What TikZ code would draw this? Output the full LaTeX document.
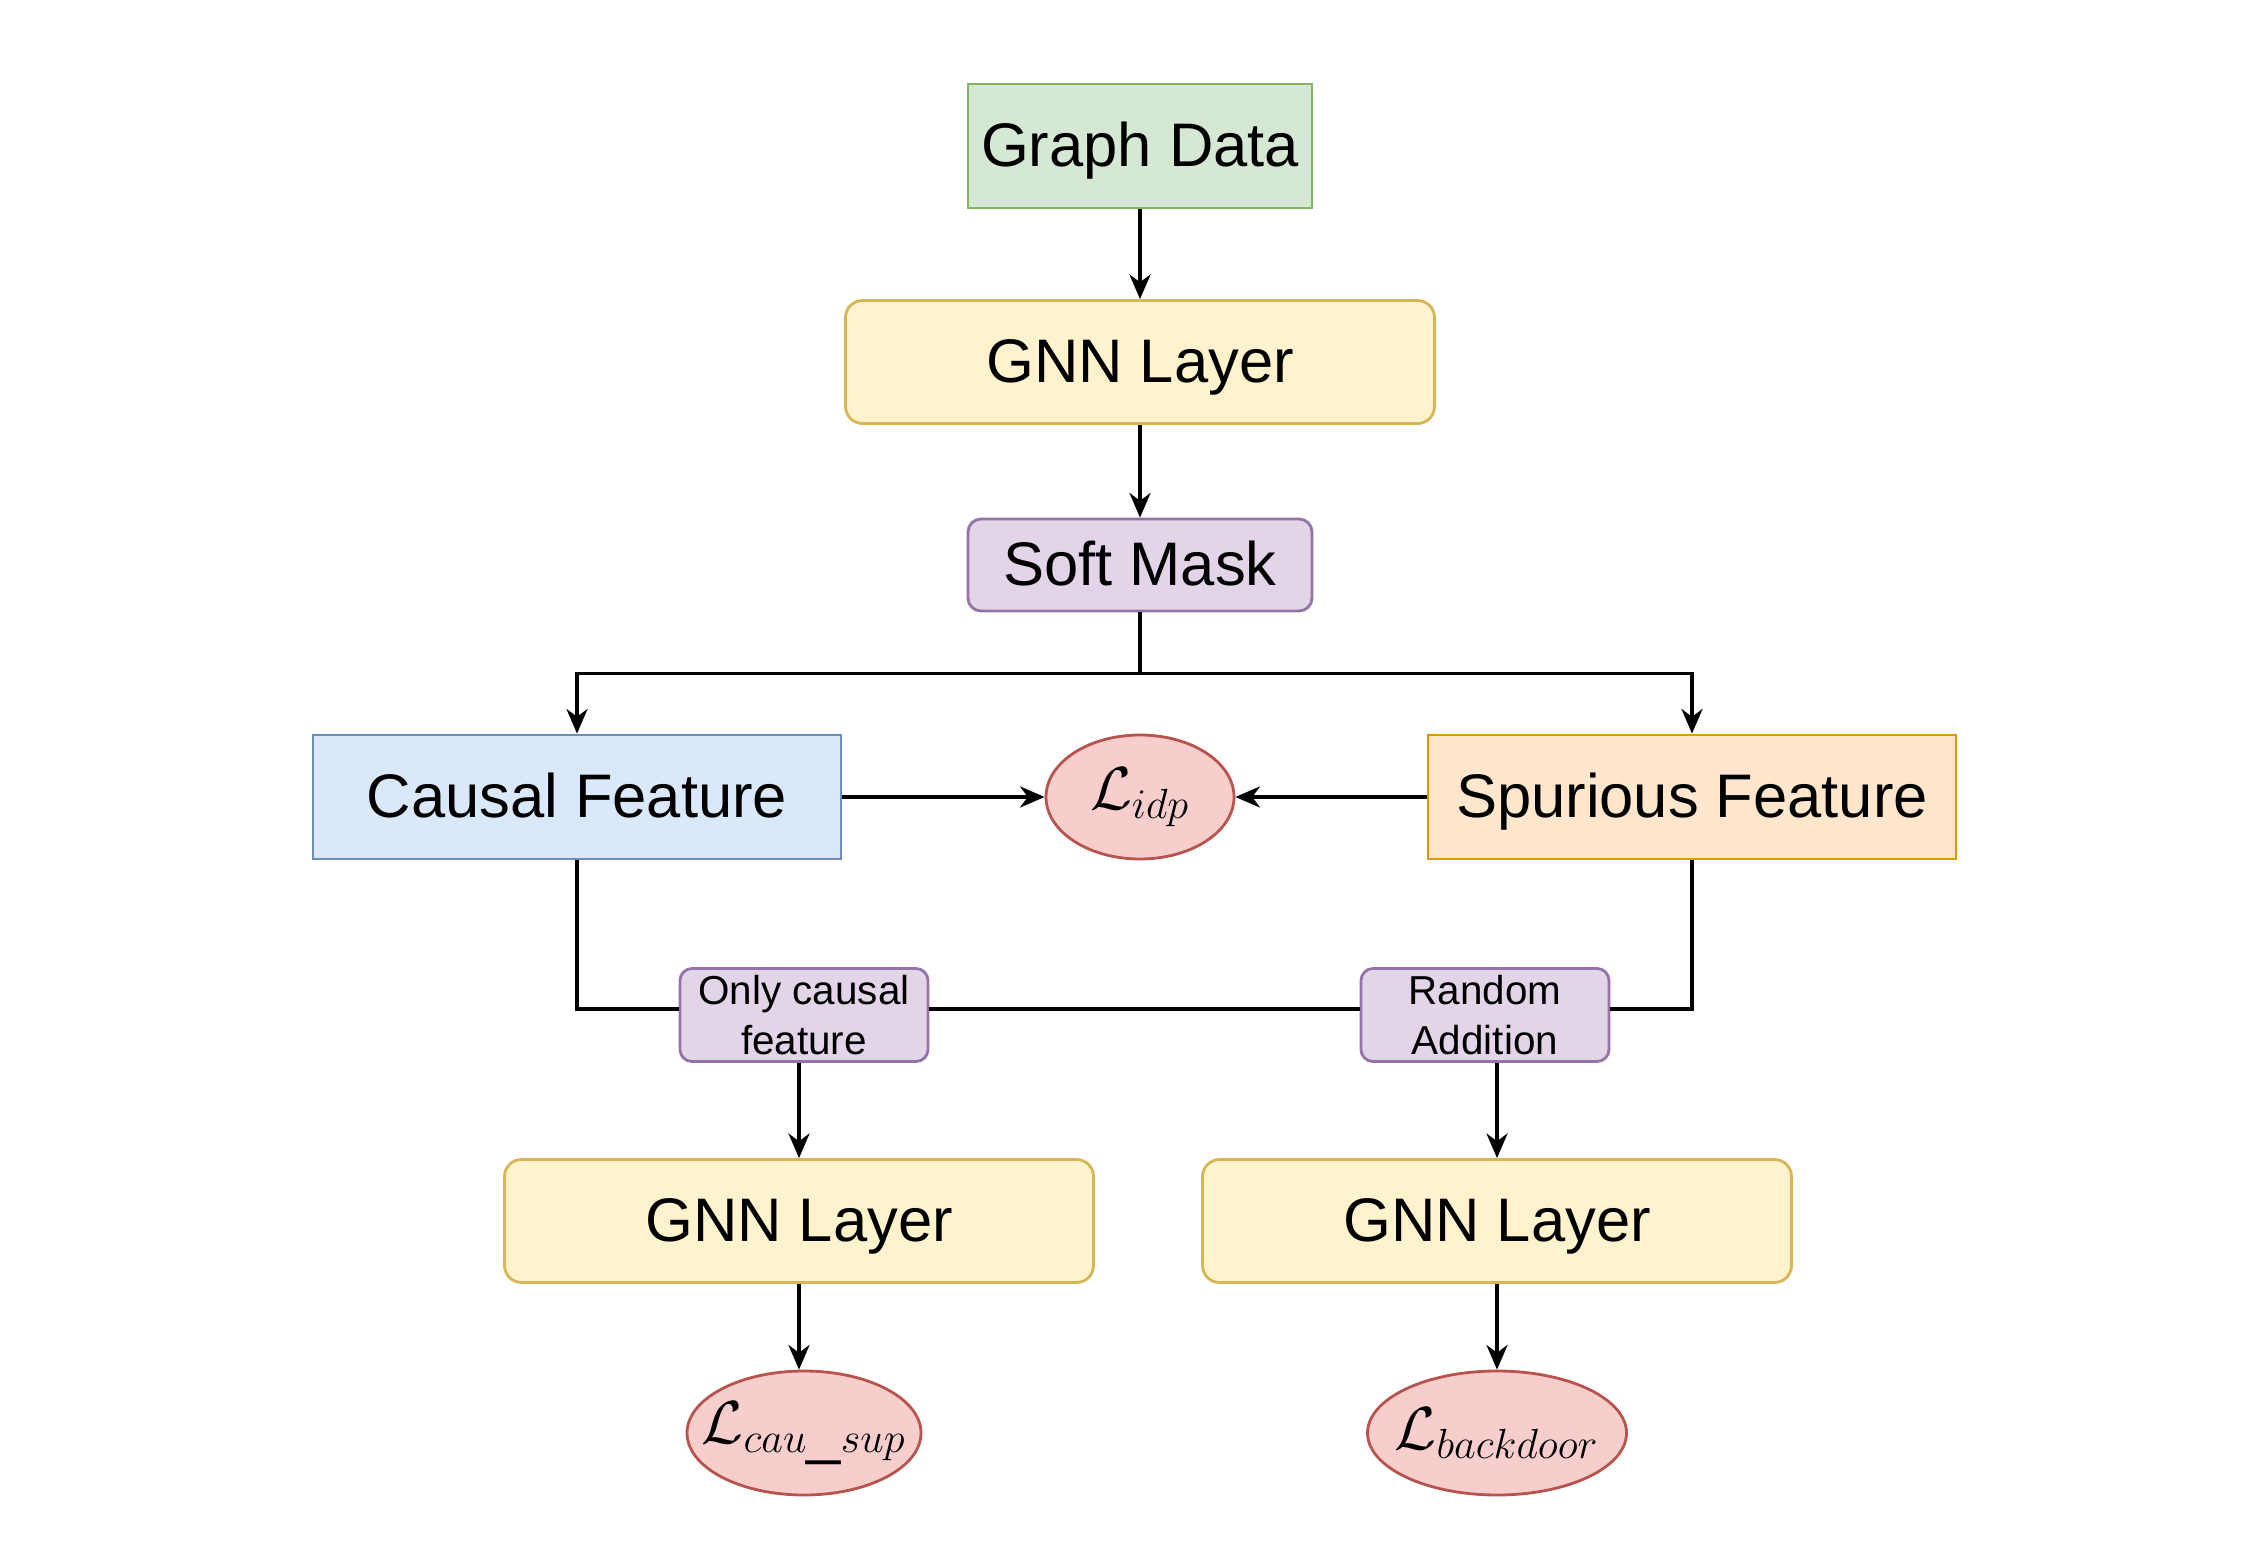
\documentclass[tikz,border=0pt]{standalone}
\usepackage{fontspec}
\setmainfont{Liberation Sans}
\usetikzlibrary{arrows.meta,shapes.geometric,positioning}

\definecolor{greenfill}{HTML}{D5E8D4}\definecolor{greenline}{HTML}{82B366}
\definecolor{yellowfill}{HTML}{FFF2CC}\definecolor{yellowline}{HTML}{D6B656}
\definecolor{purplefill}{HTML}{E1D5E7}\definecolor{purpleline}{HTML}{9673A6}
\definecolor{bluefill}{HTML}{DAE8FC}\definecolor{blueline}{HTML}{6C8EBF}
\definecolor{orangefill}{HTML}{FFE6CC}\definecolor{orangeline}{HTML}{D79B00}
\definecolor{redfill}{HTML}{F8CECC}\definecolor{redline}{HTML}{B85450}

\newcommand{\lossname}[1]{\makebox[0pt]{$\mathcal{L}_{#1}$}}

\begin{document}
\begin{tikzpicture}[->,>={Stealth[length=7pt,width=6pt,inset=2.2pt]},
                    line width=0.9pt,node distance=2.16cm]
  \tikzstyle{every node}=[inner sep=0pt,line width=0.8pt,font=\fontsize{17.5}{21}\selectfont]
  \tikzstyle{big}=[text height=13pt,text depth=1.6pt]
  \tikzstyle{box}=[big,draw,rectangle,minimum width=5.28cm,minimum height=1.24cm]
  \tikzstyle{layer}=[big,draw=yellowline,fill=yellowfill,rectangle,rounded corners=0.17cm,
                     minimum width=5.89cm,minimum height=1.23cm]
  \tikzstyle{tag}=[draw=purpleline,fill=purplefill,rectangle,rounded corners=0.12cm,
                   minimum width=2.48cm,minimum height=0.93cm,align=center,
                   font=\fontsize{11.5}{14}\selectfont]
  \tikzstyle{loss}=[draw=redline,fill=redfill,ellipse,minimum height=1.24cm]

  \useasboundingbox (0,0) rectangle (22.61,-15.54);

  \node[box,draw=greenline,fill=greenfill,minimum width=3.44cm] (data) at (11.40,-1.46) {Graph Data};
  \node[layer]                    (gnn)    [below of=data] {GNN Layer};
  \node[tag,big,minimum width=3.44cm,minimum height=0.92cm,rounded corners=0.13cm,
        font=\fontsize{17.5}{21}\selectfont] (mask) [below of=gnn, node distance=2.03cm] {Soft Mask};
  \node[loss,minimum width=1.88cm] (idp)  [below of=mask, node distance=2.32cm] {\lossname{idp}};
  \node[box,draw=blueline,fill=bluefill]     (causal) [left of=idp, node distance=5.63cm] {Causal Feature};
  \node[box,draw=orangeline,fill=orangefill] (spur)   [right of=idp, node distance=5.52cm] {Spurious Feature};

  \node[tag]   (only) at (8.04,-10.15)  {Only causal\\feature};
  \node[tag]   (rand) at (14.85,-10.15) {Random\\Addition};
  \node[layer] (gnnL) at (7.99,-12.21)  {GNN Layer};
  \node[layer] (gnnR) at (14.97,-12.21) {GNN Layer};
  \node[loss,minimum width=2.34cm] (cau)  [below of=gnnL, node distance=2.12cm, xshift=0.05cm] {\lossname{cau\_sup}};
  \node[loss,minimum width=2.59cm] (back) [below of=gnnR, node distance=2.12cm] {\lossname{backdoor}};

  \path (data)   edge (gnn)
        (gnn)    edge (mask)
        (causal) edge (idp)
        (spur)   edge (idp)
        (gnnL)   edge (gnnL |- cau.north)
        (gnnR)   edge (back);

  \draw (mask.south) -- ++(0,-0.61) coordinate (split) -| (causal.north);
  \draw (split) -| (spur.north);
  \draw[-] (causal.south) |- ([yshift=0.06cm]only.west)
           ([yshift=0.06cm]only.east) -- ([yshift=0.06cm]rand.west)
           ([yshift=0.06cm]rand.east) -| (spur.south);
  \draw (only.south -| gnnL) -- (gnnL.north);
  \draw (rand.south -| gnnR) -- (gnnR.north);
\end{tikzpicture}
\end{document}
